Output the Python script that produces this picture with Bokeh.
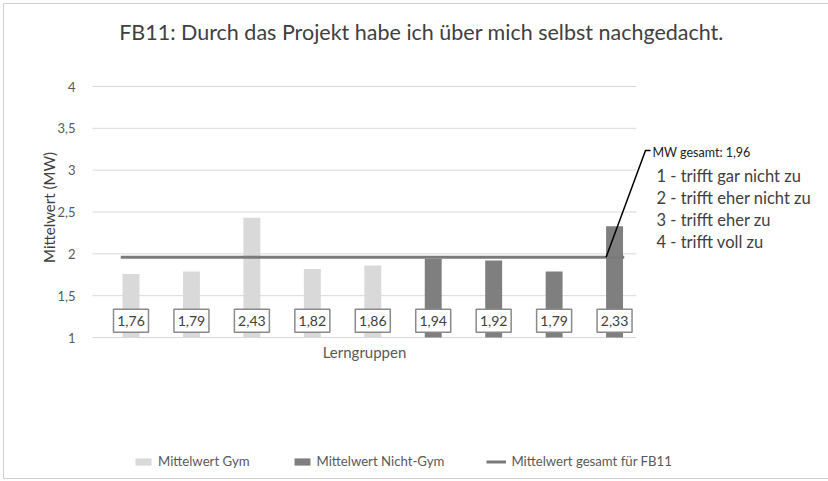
import math
from bokeh.plotting import figure
from bokeh.models import Range1d, Legend, LegendItem
from bokeh.core.properties import value
from bokeh.embed import file_html
from bokeh.resources import INLINE

# ---------------- data ----------------
title_text = "FB11: Durch das Projekt habe ich über mich selbst nachgedacht."
groups = ["LG1", "LG2", "LG3", "LG4", "LG5", "LG6", "LG7", "LG8", "LG9"]
gym_values = [1.76, 1.79, 2.43, 1.82, 1.86]
nongym_values = [1.94, 1.92, 1.79, 2.33]
mw_total = 1.96
y_ticks = [1, 1.5, 2, 2.5, 3, 3.5, 4]
y_tick_labels = ["1", "1,5", "2", "2,5", "3", "3,5", "4"]
scale_text = ["1 - trifft gar nicht zu", "2 - trifft eher nicht zu",
              "3 - trifft eher zu", "4 - trifft voll zu"]
legend_labels = ["Mittelwert Gym", "Mittelwert Nicht-Gym", "Mittelwert gesamt für FB11"]

# ---------------- layout (page pixels) ----------------
W, H = 828, 481
FL, FR, FT, FB = 92, 636, 86, 337   # plot area edges in page px
NCAT = len(groups)
YMIN, YMAX = y_ticks[0], y_ticks[-1]

def dx(px):
    return (px - FL) / (FR - FL) * NCAT

def dy(py):
    return YMIN + (FB - py) / (FB - FT) * (YMAX - YMIN)

FONT = "Lato"
TXT = "#595959"
LIGHT = "#d9d9d9"
DARK = "#7f7f7f"
LINEC = "#7a7a7a"
bar_shift = 0.137
bar_w = 0.28
label_y = 1.2

p = figure(width=W, height=H, x_range=Range1d(dx(0), dx(W)), y_range=Range1d(dy(H), dy(0)),
           output_backend="svg", toolbar_location=None,
           min_border=0, min_border_left=0, min_border_right=0,
           min_border_top=0, min_border_bottom=0)
p.outline_line_color = None
p.axis.visible = False
p.grid.visible = False

# chart border
p.line(x=[dx(W + 5), dx(3), dx(3), dx(W + 5)], y=[dy(3), dy(3), dy(478), dy(478)],
       line_color="#d0d0d0", line_width=1)

# gridlines
p.segment(x0=[0] * len(y_ticks), x1=[NCAT] * len(y_ticks), y0=y_ticks, y1=y_ticks,
          line_color=LIGHT, line_width=1)

# y tick labels
p.text(x=[dx(75)] * len(y_ticks), y=y_ticks, text=y_tick_labels,
       text_align="right", text_baseline="middle",
       text_font=value(FONT), text_font_size="13px", text_color=TXT)
# y axis label
p.text(x=[dx(48)], y=[dy(207)], text=["Mittelwert (MW)"], angle=math.pi / 2,
       text_align="center", text_baseline="middle",
       text_font=value(FONT), text_font_size="15px", text_color="#404040")

# bars
x_gym = [i + 0.5 + bar_shift for i in range(len(gym_values))]
x_non = [i + 0.5 + bar_shift for i in range(len(gym_values), NCAT)]
r_gym = p.vbar(x=x_gym, top=gym_values, bottom=YMIN, width=bar_w,
               fill_color=LIGHT, line_color=None)
r_non = p.vbar(x=x_non, top=nongym_values, bottom=YMIN, width=bar_w,
               fill_color=DARK, line_color=None)

# mean line
r_line = p.line(x=[x_gym[0] - bar_w / 2 - 0.03, x_non[-1] + bar_w / 2 + 0.02],
                y=[mw_total, mw_total], line_color=LINEC, line_width=3)

# value boxes
all_x = x_gym + x_non
all_v = gym_values + nongym_values
p.rect(x=all_x, y=[label_y] * NCAT, width=35, height=23,
       width_units="screen", height_units="screen",
       fill_color="white", line_color="#8a8a8a", line_width=1.5)
p.text(x=all_x, y=[label_y] * NCAT,
       text=[f"{v:.2f}".replace(".", ",") for v in all_v],
       text_align="center", text_baseline="middle",
       text_font=value(FONT), text_font_size="14px", text_color="#404040")

# title
p.text(x=[dx(421)], y=[dy(31)], text=[title_text], text_align="center",
       text_baseline="middle", text_font=value(FONT), text_font_size="21.5px",
       text_color="#404040")
# x axis label
p.text(x=[(0 + NCAT) / 2], y=[dy(351)], text=["Lerngruppen"], text_align="center",
       text_baseline="middle", text_font=value(FONT), text_font_size="15px",
       text_color=TXT)

# callout
p.line(x=[x_non[-1] - bar_w / 2, dx(645), dx(650)], y=[mw_total, dy(150), dy(150)],
       line_color="black", line_width=1.5)
p.text(x=[dx(652)], y=[dy(152)], text=[f"MW gesamt: {mw_total:.2f}".replace(".", ",")],
       text_align="left", text_baseline="middle", text_font=value(FONT),
       text_font_size="12.5px", text_color="#202020")
p.text(x=[dx(656)] * len(scale_text), y=[dy(175 + 22 * k) for k in range(len(scale_text))],
       text=scale_text, text_align="left", text_baseline="middle",
       text_font=value(FONT), text_font_size="16.5px", text_color="#404040")

# legend
legend = Legend(items=[LegendItem(label=legend_labels[0], renderers=[r_gym]),
                       LegendItem(label=legend_labels[1], renderers=[r_non]),
                       LegendItem(label=legend_labels[2], renderers=[r_line])],
                orientation="horizontal", location=(133, H - 469))
legend.border_line_color = None
legend.background_fill_alpha = 0
legend.padding = 0
legend.margin = 0
legend.spacing = 42
legend.glyph_width = 20
legend.glyph_height = 9
legend.label_standoff = 5
legend.label_text_font = FONT
legend.label_text_font_size = "13.2px"
legend.label_text_color = TXT
p.add_layout(legend)

open("out.html", "w").write(file_html(p, INLINE))
